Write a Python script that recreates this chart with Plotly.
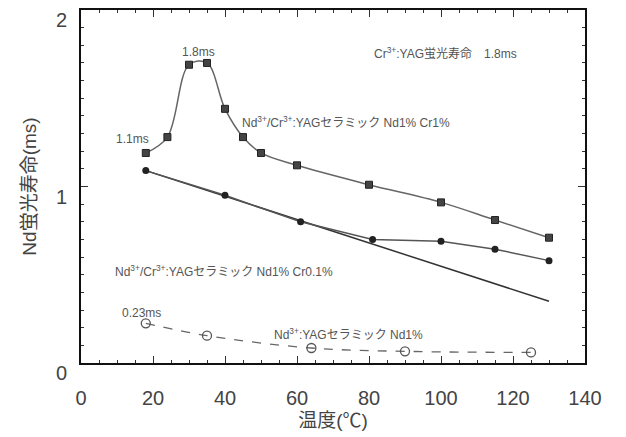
import plotly.graph_objects as go

# Nd3+/Cr3+:YAG ceramic Nd1% Cr1%
temp_cr1 = [18, 24, 30, 35, 40, 45, 50, 60, 80, 100, 115, 130]
life_cr1 = [1.19, 1.28, 1.69, 1.70, 1.44, 1.28, 1.19, 1.12, 1.01, 0.91, 0.81, 0.71]
# Nd3+/Cr3+:YAG ceramic Nd1% Cr0.1%
temp_cr01 = [18, 40, 61, 81, 100, 115, 130]
life_cr01 = [1.09, 0.95, 0.80, 0.70, 0.69, 0.645, 0.58]
# straight reference line
fit_temp = [18, 130]
fit_life = [1.09, 0.35]
# Nd3+:YAG ceramic Nd1%
temp_nd = [18, 35, 64, 90, 125]
life_nd = [0.225, 0.155, 0.085, 0.066, 0.060]

x_ticks = [0, 20, 40, 60, 80, 100, 120, 140]
y_ticks = [0, 1, 2]

FONT = "Liberation Sans, Arial, Noto Sans CJK JP, sans-serif"
TXT = "#555555"

fig = go.Figure()
fig.add_trace(go.Scatter(
    x=fit_temp, y=fit_life, mode="lines",
    line=dict(color="#333333", width=1.5), showlegend=False))
fig.add_trace(go.Scatter(
    x=temp_cr1, y=life_cr1, mode="lines+markers",
    line=dict(color="#666666", width=1.5, shape="spline", smoothing=1.0),
    marker=dict(symbol="square", size=7, color="#444444",
                line=dict(color="#222222", width=1)),
    showlegend=False))
fig.add_trace(go.Scatter(
    x=temp_cr01, y=life_cr01, mode="lines+markers",
    line=dict(color="#555555", width=1.5),
    marker=dict(symbol="circle", size=7, color="#222222"),
    showlegend=False))
fig.add_trace(go.Scatter(
    x=temp_nd, y=life_nd, mode="lines+markers",
    line=dict(color="#666666", width=1.3, dash="dash", shape="spline"),
    marker=dict(symbol="circle-open", size=9, color="#555555",
                line=dict(width=1.3)),
    showlegend=False))
# invisible trace to carry the mirrored top/right tick axes
fig.add_trace(go.Scatter(x=fit_temp, y=fit_life, xaxis="x2", yaxis="y2",
                         mode="none", showlegend=False, hoverinfo="skip"))

ann = [
    (32.5, 1.764, "1.8ms", "center"),
    (14.4, 1.27, "1.1ms", "center"),
    (44.2, 1.365, "Nd<sup>3+</sup>/Cr<sup>3+</sup>:YAGセラミック Nd1% Cr1%", "left"),
    (80.8, 1.758, "Cr<sup>3+</sup>:YAG蛍光寿命　1.8ms", "left"),
    (8.9, 0.522, "Nd<sup>3+</sup>/Cr<sup>3+</sup>:YAGセラミック Nd1% Cr0.1%", "left"),
    (16.7, 0.281, "0.23ms", "center"),
    (53.0, 0.163, "Nd<sup>3+</sup>:YAGセラミック Nd1%", "left"),
]
for x, y, t, xa in ann:
    fig.add_annotation(x=x, y=y, text=t, showarrow=False, xanchor=xa,
                       yanchor="middle", font=dict(size=12, color=TXT, family=FONT))

axis_common = dict(
    showline=True, linecolor="#111111", linewidth=2,
    ticks="inside", tickcolor="#333333", showgrid=False, zeroline=False,
    tickfont=dict(size=20, color="#444444", family=FONT),
)
fig.update_layout(
    xaxis=dict(
        range=[0, 140], tickvals=x_ticks, ticklen=7, tickwidth=1,
        minor=dict(dtick=5, ticklen=3, ticks="inside", tickcolor="#333333"),
        title=dict(text="温度(℃)", font=dict(size=19, color="#444444", family=FONT), standoff=6),
        ticklabelstandoff=16, **axis_common),
    yaxis=dict(
        range=[0, 2], tickvals=y_ticks, ticklen=7, tickwidth=1,
        minor=dict(dtick=0.1, ticklen=3, ticks="inside", tickcolor="#333333"),
        title=dict(text="Nd蛍光寿命(ms)", font=dict(size=19, color="#444444", family=FONT), standoff=14),
        ticklabelstandoff=8, ticklabelshift=10, **axis_common),
    xaxis2=dict(
        range=[0, 140], tickvals=x_ticks, ticklen=7, tickwidth=1, side="top",
        overlaying="x", anchor="y2", showticklabels=False,
        minor=dict(dtick=5, ticklen=3, ticks="inside", tickcolor="#333333"),
        **axis_common),
    yaxis2=dict(
        range=[0, 2], tickvals=y_ticks, ticklen=7, tickwidth=1, side="right",
        overlaying="y", anchor="x2", showticklabels=False,
        minor=dict(dtick=0.1, ticklen=3, ticks="inside", tickcolor="#333333"),
        **axis_common),
    width=626, height=437,
    margin=dict(l=81, r=41, t=9, b=72),
    plot_bgcolor="white", paper_bgcolor="white",
    font=dict(family=FONT),
)
fig.write_html("out.html")
